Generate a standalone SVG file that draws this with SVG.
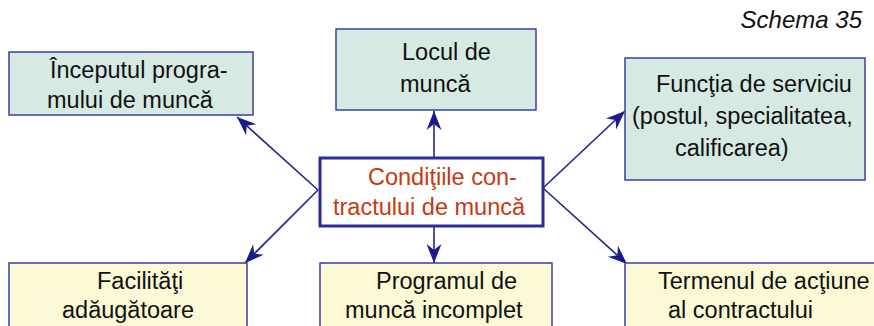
<svg xmlns="http://www.w3.org/2000/svg" width="874" height="326" viewBox="0 0 874 326">
<defs>
<style>
.g{fill:#d6e9e3;stroke:#3e3ea0;stroke-width:1.5}
.y{fill:#fbf9d6;stroke:#3e3ea0;stroke-width:1.5}
.c{fill:#ffffff;stroke:#2c2c98;stroke-width:3}
.t{font-family:"Liberation Sans",Arial,sans-serif;font-size:23.5px;fill:#111}
.r{font-family:"Liberation Sans",Arial,sans-serif;font-size:23.5px;fill:#c63a12}
.s{font-family:"Liberation Sans",Arial,sans-serif;font-size:24px;font-style:italic;fill:#111}
.l{stroke:#22228f;stroke-width:1.6;fill:none;marker-end:url(#ah)}
</style>
<marker id="ah" markerUnits="userSpaceOnUse" markerWidth="24" markerHeight="20" viewBox="-20 -10 22 20" refX="0" refY="0" orient="auto">
<path d="M0,0 L-19,-7.5 L-13,0 L-19,7.5 Z" fill="#1a1a8c"/>
</marker>
</defs>
<rect width="874" height="326" fill="#ffffff"/>
<text x="862" y="28" class="s" text-anchor="end">Schema 35</text>
<g id="connectors">
<line class="l" x1="318" y1="190" x2="237" y2="117"/>
<line class="l" x1="318" y1="190" x2="245" y2="263"/>
<line class="l" x1="434" y1="158" x2="434" y2="111"/>
<line class="l" x1="434" y1="226" x2="434" y2="263"/>
<line class="l" x1="543" y1="188" x2="625" y2="111"/>
<line class="l" x1="543" y1="188" x2="627" y2="264"/>
</g>
<g id="inceputul">
<rect class="g" x="9" y="52" width="244" height="63"/>
<text class="t" x="50" y="78">Începutul progra-</text>
<text class="t" x="47" y="108">mului de muncă</text>
</g>
<g id="locul">
<rect class="g" x="336" y="29" width="200" height="81"/>
<text class="t" x="402" y="60">Locul de</text>
<text class="t" x="400" y="92">muncă</text>
</g>
<g id="functia">
<rect class="g" x="625" y="58" width="240" height="122"/>
<text class="t" x="656" y="92">Funcţia de serviciu</text>
<text class="t" x="632" y="124">(postul, specialitatea,</text>
<text class="t" x="675" y="156">calificarea)</text>
</g>
<g id="conditiile">
<rect class="c" x="320" y="158" width="223" height="68"/>
<text class="r" x="368" y="185">Condiţiile con-</text>
<text class="r" x="333" y="215">tractului de muncă</text>
</g>
<g id="facilitati">
<rect class="y" x="9" y="263" width="238" height="70"/>
<text class="t" x="97" y="289">Facilităţi</text>
<text class="t" x="62" y="318">adăugătoare</text>
</g>
<g id="programul">
<rect class="y" x="320" y="263" width="232" height="70"/>
<text class="t" x="376" y="289">Programul de</text>
<text class="t" x="345" y="318">muncă incomplet</text>
</g>
<g id="termenul">
<rect class="y" x="625" y="263" width="260" height="70"/>
<text class="t" x="658" y="289">Termenul de acţiune</text>
<text class="t" x="668" y="318">al contractului</text>
</g>
</svg>
